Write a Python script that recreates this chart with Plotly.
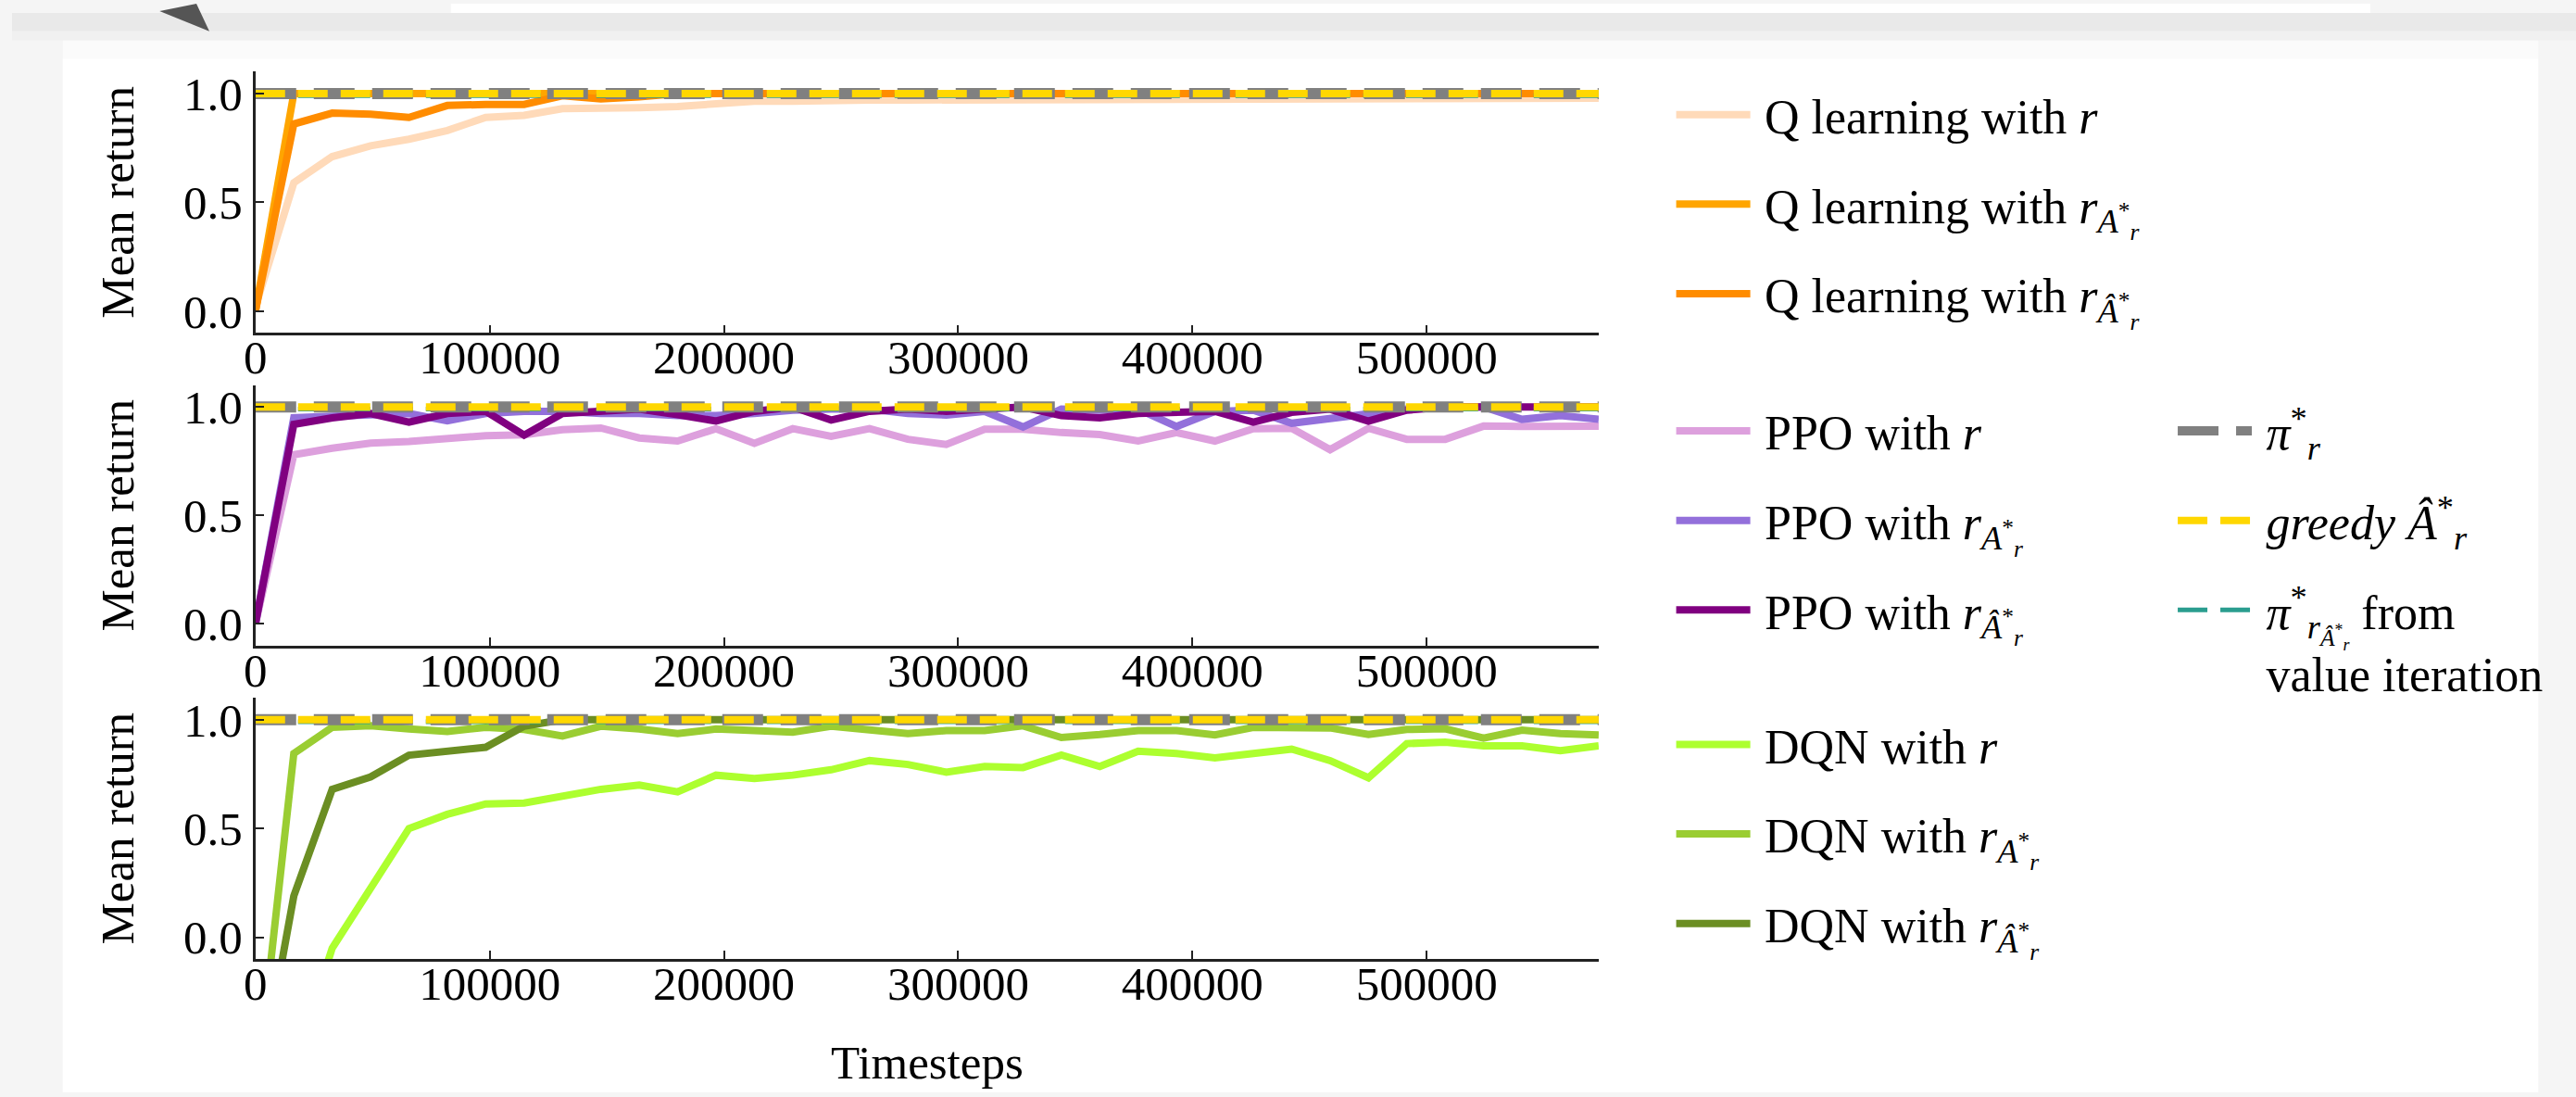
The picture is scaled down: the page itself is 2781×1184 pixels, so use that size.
import plotly.graph_objects as go

W, H = 2781, 1184

# ---------------- data ----------------
timesteps = [0, 16384, 32768, 49152, 65536, 81920, 98304, 114688, 131072, 147456,
             163840, 180224, 196608, 212992, 229376, 245760, 262144, 278528, 294912,
             311296, 327680, 344064, 360448, 376832, 393216, 409600, 425984, 442368,
             458752, 475136, 491520, 507904, 524288, 540672, 557056, 573440]

q_r = [0.02, 0.59, 0.71, 0.76, 0.79, 0.83, 0.89, 0.90, 0.93, 0.93, 0.935, 0.94,
       0.95, 0.965, 0.965, 0.97, 0.97, 0.97, 0.97, 0.975, 0.975, 0.975, 0.975, 0.975,
       0.975, 0.975, 0.975, 0.978, 0.978, 0.978, 0.978, 0.978, 0.978, 0.978, 0.978, 0.978]
q_ra = [0.0, 1.0, 1.0, 1.0, 1.0, 1.0, 1.0, 1.0, 1.0, 1.0, 1.0, 1.0, 1.0, 1.0, 1.0, 1.0,
        1.0, 1.0, 1.0, 1.0, 1.0, 1.0, 1.0, 1.0, 1.0, 1.0, 1.0, 1.0, 1.0, 1.0, 1.0, 1.0,
        1.0, 1.0, 1.0, 1.0]
q_rahat = [0.0, 0.86, 0.91, 0.905, 0.89, 0.945, 0.95, 0.95, 0.99, 0.975, 0.985, 1.0,
           1.0, 1.0, 1.0, 1.0, 1.0, 1.0, 1.0, 1.0, 1.0, 1.0, 1.0, 1.0, 1.0, 1.0, 1.0,
           1.0, 1.0, 1.0, 1.0, 1.0, 1.0, 1.0, 1.0, 1.0]

ppo_r = [0.0, 0.78, 0.81, 0.833, 0.841, 0.858, 0.868, 0.872, 0.895, 0.903, 0.857, 0.843,
         0.9, 0.832, 0.9, 0.865, 0.9, 0.851, 0.827, 0.897, 0.897, 0.882, 0.873, 0.843,
         0.882, 0.843, 0.9, 0.902, 0.803, 0.902, 0.851, 0.851, 0.912, 0.91, 0.911, 0.911]
ppo_ra = [0.0, 0.95, 0.957, 0.962, 0.97, 0.936, 0.97, 0.98, 0.98, 0.97, 0.97, 0.96,
          0.96, 0.97, 0.985, 0.99, 0.99, 0.97, 0.963, 0.98, 0.908, 0.99, 0.985, 0.99,
          0.91, 0.98, 0.985, 0.925, 0.945, 0.965, 0.99, 1.0, 1.0, 0.943, 0.96, 0.943]
ppo_rahat = [0.0, 0.92, 0.95, 0.97, 0.93, 0.97, 0.98, 0.87, 0.97, 0.98, 0.99, 0.965,
             0.935, 0.98, 1.0, 0.94, 0.98, 0.99, 0.98, 0.99, 1.0, 0.96, 0.95, 0.97,
             0.975, 0.98, 0.93, 0.975, 0.99, 0.935, 0.985, 1.0, 1.0, 1.0, 1.0, 1.0]

dqn_r = [-0.8, -0.6, -0.05, 0.22, 0.50, 0.565, 0.613, 0.617, 0.652, 0.68, 0.70, 0.668,
         0.745, 0.73, 0.745, 0.77, 0.812, 0.794, 0.759, 0.785, 0.78, 0.837, 0.785, 0.855,
         0.845, 0.825, 0.845, 0.865, 0.812, 0.733, 0.89, 0.897, 0.88, 0.88, 0.858, 0.88]
dqn_ra = [-0.75, 0.845, 0.965, 0.972, 0.957, 0.946, 0.965, 0.955, 0.925, 0.97, 0.957,
          0.936, 0.957, 0.95, 0.943, 0.97, 0.953, 0.936, 0.95, 0.95, 0.972, 0.918, 0.932,
          0.95, 0.95, 0.93, 0.965, 0.965, 0.962, 0.932, 0.955, 0.958, 0.915, 0.952, 0.936, 0.93]
dqn_rahat = [-0.78, 0.19, 0.68, 0.737, 0.837, 0.858, 0.873, 0.97, 1.0, 1.0, 1.0, 1.0,
             1.0, 1.0, 1.0, 1.0, 1.0, 1.0, 1.0, 1.0, 1.0, 1.0, 1.0, 1.0, 1.0, 1.0, 1.0,
             1.0, 1.0, 1.0, 1.0, 1.0, 1.0, 1.0, 1.0, 1.0]

ref_x = [0, 573440]
pi_r = [1.0, 1.0]
greedy = [1.0, 1.0]
pi_vi = [0.99, 0.99]

x_ticks = [0, 100000, 200000, 300000, 400000, 500000]
y_ticks = [0.0, 0.5, 1.0]

SERIF = "Liberation Serif, Tinos, Times New Roman, DejaVu Serif, serif"
SP = "\u2009"
sub_a = "<i>r</i><sub><i>A</i><sup>*</sup><sub><i>r</i></sub></sub>"
sub_ahat = "<i>r</i><sub><i>Â</i><sup>*</sup><sub><i>r</i></sub></sub>"

panels = [
    ("x", "y", "legend", [
        (SP + "Q learning with <i>r</i>", q_r, "#FFDAB9"),
        (SP + "Q learning with " + sub_a, q_ra, "#FFA500"),
        (SP + "Q learning with " + sub_ahat, q_rahat, "#FF8C00"),
    ]),
    ("x2", "y2", "legend2", [
        (SP + "PPO with <i>r</i>", ppo_r, "#DDA0DD"),
        (SP + "PPO with " + sub_a, ppo_ra, "#9370DB"),
        (SP + "PPO with " + sub_ahat, ppo_rahat, "#800080"),
    ]),
    ("x3", "y3", "legend3", [
        (SP + "DQN with <i>r</i>", dqn_r, "#ADFF2F"),
        (SP + "DQN with " + sub_a, dqn_ra, "#9ACD32"),
        (SP + "DQN with " + sub_ahat, dqn_rahat, "#6B8E23"),
    ]),
]

refs = [
    (SP + "<i>π</i><sup>*</sup><sub><i>r</i><sub><i>Â</i><sup>*</sup><sub><i>r</i></sub></sub></sub> from<br>" + SP + "value iteration",
     pi_vi, "#2A9D8F", 5, "32px,14px"),
    (SP + "<i>π</i><sup>*</sup><sub><i>r</i></sub>", pi_r, "#808080", 12, "44px,19px"),
    (SP + "<i>greedy</i> <i>Â</i><sup>*</sup><sub><i>r</i></sub>", greedy, "#FFD700", 8, "32px,14px"),
]
refs_legend_order = [1, 2, 0]

fig = go.Figure()
gid = 0
for pi, (xa, ya, leg, series) in enumerate(panels):
    for name, vals, col in series:
        gid += 1
        fig.add_trace(go.Scatter(
            x=timesteps, y=vals, mode="lines", name=name, xaxis=xa, yaxis=ya,
            line=dict(color=col, width=8), legend=leg, legendgroup="g%d" % gid,
            hoverinfo="skip"))
    for ri, (name, vals, col, w, dash) in enumerate(refs):
        gid += 1
        fig.add_trace(go.Scatter(
            x=ref_x, y=vals, mode="lines", name=name, xaxis=xa, yaxis=ya,
            line=dict(color=col, width=w, dash=dash), legend="legend4",
            legendgroup="g%d" % gid, showlegend=(pi == 1),
            legendrank=100 + refs_legend_order.index(ri), hoverinfo="skip"))

dom_x = [264 / W, 1721 / W]
tops = [74, 415, 755]
bots = [358, 698, 1039]

axis_common = dict(showline=True, linecolor="#222222", linewidth=2.5, ticks="inside",
                   ticklen=9, tickwidth=1.5, tickcolor="#222222", showgrid=False,
                   zeroline=False, tickfont=dict(family=SERIF, size=51, color="black"))

layout = dict(width=W, height=H, margin=dict(l=0, r=0, t=0, b=0),
              paper_bgcolor="#f5f5f5", plot_bgcolor="white", showlegend=True,
              font=dict(family=SERIF, size=51, color="black"))
for i in range(3):
    sx = "" if i == 0 else str(i + 1)
    xa = dict(axis_common, domain=dom_x, anchor="y" + sx, range=[0, 573440],
              tickvals=x_ticks, tickformat="d", ticklabelstandoff=-20)
    if i == 2:
        xa["title"] = dict(text="Timesteps", font=dict(family=SERIF, size=51), standoff=40)
    ya = dict(axis_common, domain=[1 - bots[i] / H, 1 - tops[i] / H], anchor="x" + sx,
              range=[-0.1, 1.1], tickvals=y_ticks, tickformat=".1f", ticklabelstandoff=1,
              title=dict(text="Mean return", font=dict(family=SERIF, size=51), standoff=38))
    layout["xaxis" + sx] = xa
    layout["yaxis" + sx] = ya

leg_common = dict(xanchor="left", yanchor="top", bgcolor="rgba(0,0,0,0)",
                  font=dict(family=SERIF, size=52, color="black"), tracegroupgap=26,
                  itemwidth=80, traceorder="grouped")
layout["legend"] = dict(leg_common, x=1800 / W, y=1 - 80 / H)
layout["legend2"] = dict(leg_common, x=1800 / W, y=1 - 424 / H)
layout["legend3"] = dict(leg_common, x=1800 / W, y=1 - 765 / H)
layout["legend4"] = dict(leg_common, x=2344 / W, y=1 - 424 / H, valign="top")

def rect(x0, y0, x1, y1, color):
    return dict(type="rect", xref="paper", yref="paper", x0=x0 / W, x1=x1 / W,
                y0=1 - y1 / H, y1=1 - y0 / H, fillcolor=color, line=dict(width=0),
                layer="below")

shapes = [
    rect(0, 10, W, 30, "#e9e9e9"),
    rect(0, 30, W, 40, "#f0f0f0"),
    rect(476, 0, 2558, 10, "#ffffff"),
    rect(55, 40, 2740, H, "#fbfbfb"),
    rect(55, 60, 2740, H, "#ffffff"),
    dict(type="path", xref="paper", yref="paper",
         path="M %f,%f L %f,%f L %f,%f Z" % (160 / W, 1 - 8 / H, 200 / W, 1 - 0 / H,
                                              214 / W, 1 - 30 / H),
         fillcolor="#555555", line=dict(width=0), layer="below"),
]
layout["shapes"] = shapes
fig.update_layout(**layout)

fig.write_html("out.html", config={"displayModeBar": False},
               post_script="document.body.style.margin='0';document.body.style.overflow='hidden';")
